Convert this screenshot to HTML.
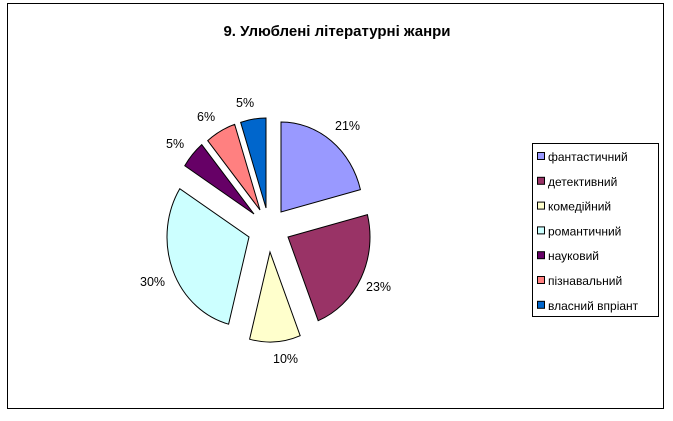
<!DOCTYPE html>
<html><head><meta charset="utf-8"><style>
body{margin:0;background:#fff;}
svg{display:block;font-family:"Liberation Sans",Arial,sans-serif;}
</style></head><body>
<svg id="s" width="673" height="421" viewBox="0 0 673 421">
<rect x="7.5" y="3.5" width="656" height="405" fill="#fff" stroke="#000" stroke-width="1"/>
<text x="337" y="36" text-anchor="middle" font-size="15" font-weight="bold">9. Улюблені літературні жанри</text>
<g id="pie" stroke="#000" stroke-width="1"></g>
<g font-size="12.5" fill="#000">
<text x="335" y="130">21%</text>
<text x="366" y="291">23%</text>
<text x="273" y="363">10%</text>
<text x="140" y="286">30%</text>
<text x="166" y="148">5%</text>
<text x="197" y="121">6%</text>
<text x="236" y="107">5%</text>
</g>
<rect x="532.5" y="143.5" width="126" height="173" fill="#fff" stroke="#000"/>
<g font-size="12" id="leg"></g>
</svg>
<script>
var d=[[21,'#9999ff',281,212,'фантастичний'],[23,'#993366',288,237,'детективний'],[10,'#ffffcc',270,252,'комедійний'],[30,'#ccffff',249,237,'романтичний'],[5,'#660066',254,214,'науковий'],[6,'#ff8080',260,210,'пізнавальний'],[5,'#0066cc',266,208,'власний впріант']];
var rx=82,ry=90,c=0,p='',l='';
d.forEach(function(s,i){
var a0=c/100*2*Math.PI,a1=(c+s[0])/100*2*Math.PI;c+=s[0];
var x0=s[2]+rx*Math.sin(a0),y0=s[3]-ry*Math.cos(a0),x1=s[2]+rx*Math.sin(a1),y1=s[3]-ry*Math.cos(a1);
p+='<path fill="'+s[1]+'" d="M'+s[2]+','+s[3]+' L'+x0+','+y0+' A'+rx+','+ry+' 0 '+(s[0]>50?1:0)+' 1 '+x1+','+y1+' Z"/>';
var y=157+i*24.8;
l+='<rect x="537.5" y="'+(y-4.5)+'" width="7" height="7" fill="'+s[1]+'" stroke="#000"/><text x="548" y="'+(y+4)+'">'+s[4]+'</text>';
});
document.getElementById('pie').innerHTML=p;
document.getElementById('leg').innerHTML=l;
</script>
</body></html>
